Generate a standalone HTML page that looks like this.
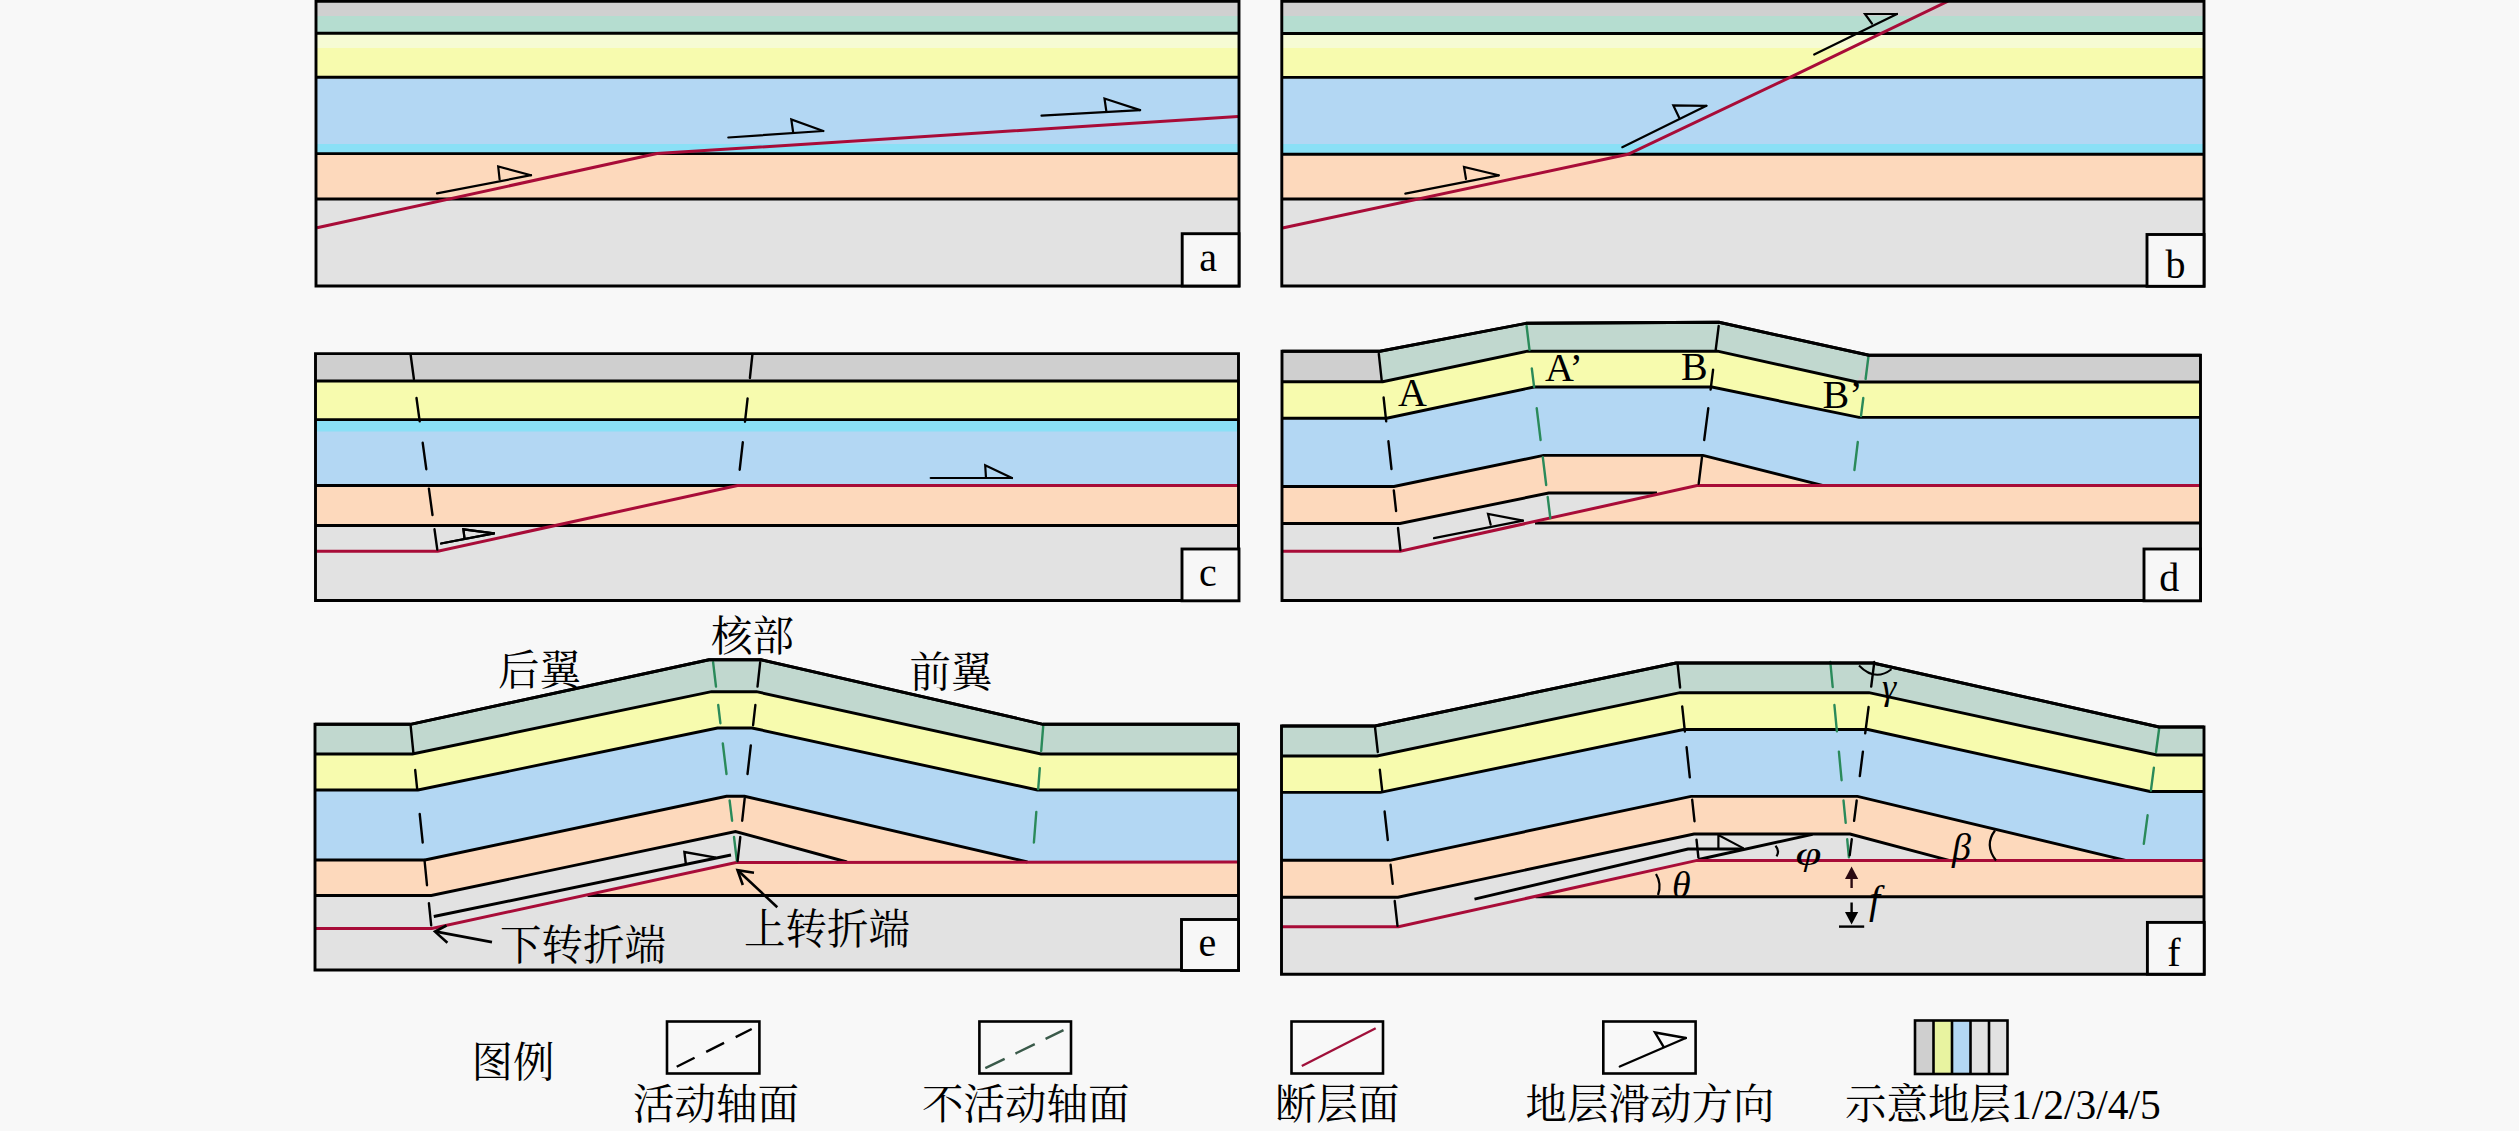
<!DOCTYPE html>
<html><head><meta charset="utf-8"><title>断层相关褶皱示意图</title>
<style>html,body{margin:0;padding:0;background:#f8f8f8;}svg{display:block;}</style>
</head><body>
<svg width="2519" height="1131" viewBox="0 0 2519 1131" font-family="'Liberation Serif', 'Noto Serif CJK SC', serif" fill="#000">
<rect width="2519" height="1131" fill="#f8f8f8"/>
<polygon points="316,1.2 1239,1.2 1239,286 316,286" fill="#b5ddd0"/>
<polygon points="316,33.3 1239,33.3 1239,286 316,286" fill="#f7fbae"/>
<polygon points="316,77.2 1239,77.2 1239,286 316,286" fill="#b3d7f3"/>
<polygon points="316,153.6 1239,153.6 1239,286 316,286" fill="#fdd9bc"/>
<polygon points="316,199 1239,199 1239,286 316,286" fill="#e2e2e2"/>
<rect x="316" y="1.2" width="923" height="14.8" fill="#d0d0d0"/>
<rect x="316" y="33.3" width="923" height="14.7" fill="#f6fbd4"/>
<rect x="316" y="144" width="923" height="9.6" fill="#8ae0f6"/>
<line x1="316" y1="33.3" x2="1239" y2="33.3" stroke="#000" stroke-width="2.9" />
<line x1="316" y1="77.2" x2="1239" y2="77.2" stroke="#000" stroke-width="2.9" />
<line x1="316" y1="153.6" x2="1239" y2="153.6" stroke="#000" stroke-width="2.9" />
<line x1="316" y1="199" x2="1239" y2="199" stroke="#000" stroke-width="2.9" />
<polyline points="317,227.8 657,153.6 1238,116.5" fill="none" stroke="#a80c38" stroke-width="3" stroke-linejoin="miter" />
<polyline points="437,193.4 531,175.2" fill="none" stroke="#000" stroke-width="2.2" stroke-linejoin="miter" stroke-linecap="round"/>
<polyline points="499.6,179.4 498.2,166.5 531,175.2" fill="none" stroke="#000" stroke-width="2.2" stroke-linejoin="miter" stroke-linecap="round"/>
<polyline points="728.3,137.5 823.3,131" fill="none" stroke="#000" stroke-width="2.2" stroke-linejoin="miter" stroke-linecap="round"/>
<polyline points="793.1,132 791.3,119.5 823.3,131" fill="none" stroke="#000" stroke-width="2.2" stroke-linejoin="miter" stroke-linecap="round"/>
<polyline points="1041.5,115.6 1140.1,110.1" fill="none" stroke="#000" stroke-width="2.2" stroke-linejoin="miter" stroke-linecap="round"/>
<polyline points="1106.3,111 1104.5,98.5 1140.1,110.1" fill="none" stroke="#000" stroke-width="2.2" stroke-linejoin="miter" stroke-linecap="round"/>
<polygon points="316,1.2 1239,1.2 1239,286 316,286" fill="none" stroke="#000" stroke-width="2.9" stroke-linejoin="miter"/>
<rect x="1182.2" y="233.7" width="56.8" height="52.3" fill="#f7f7f7" stroke="#000" stroke-width="2.9"/>
<text x="1208.1" y="271.4" font-size="40" text-anchor="middle" >a</text>
<polygon points="1281.8,1.2 2204,1.2 2204,286 1281.8,286" fill="#b5ddd0"/>
<polygon points="1281.8,33.5 2204,33.5 2204,286 1281.8,286" fill="#f7fbae"/>
<polygon points="1281.8,77.4 2204,77.4 2204,286 1281.8,286" fill="#b3d7f3"/>
<polygon points="1281.8,154.3 2204,154.3 2204,286 1281.8,286" fill="#fdd9bc"/>
<polygon points="1281.8,199 2204,199 2204,286 1281.8,286" fill="#e2e2e2"/>
<rect x="1281.8" y="1.2" width="922.2" height="14.8" fill="#d0d0d0"/>
<rect x="1281.8" y="33.5" width="922.2" height="14.5" fill="#f6fbd4"/>
<rect x="1281.8" y="144" width="922.2" height="10.3" fill="#8ae0f6"/>
<line x1="1281.8" y1="33.5" x2="2204" y2="33.5" stroke="#000" stroke-width="2.9" />
<line x1="1281.8" y1="77.4" x2="2204" y2="77.4" stroke="#000" stroke-width="2.9" />
<line x1="1281.8" y1="154.3" x2="2204" y2="154.3" stroke="#000" stroke-width="2.9" />
<line x1="1281.8" y1="199" x2="2204" y2="199" stroke="#000" stroke-width="2.9" />
<polyline points="1282.5,228 1628,154.3 1790,77.4 1948,1.2" fill="none" stroke="#a80c38" stroke-width="3" stroke-linejoin="miter" />
<polyline points="1405.3,193.6 1498.7,175.3" fill="none" stroke="#000" stroke-width="2.2" stroke-linejoin="miter" stroke-linecap="round"/>
<polyline points="1466,179 1464,167 1498.7,175.3" fill="none" stroke="#000" stroke-width="2.2" stroke-linejoin="miter" stroke-linecap="round"/>
<polyline points="1622.3,147.2 1706.4,105.8" fill="none" stroke="#000" stroke-width="2.2" stroke-linejoin="miter" stroke-linecap="round"/>
<polyline points="1679.2,117.8 1673.3,105.4 1706.4,105.8" fill="none" stroke="#000" stroke-width="2.2" stroke-linejoin="miter" stroke-linecap="round"/>
<polyline points="1814.2,54.5 1897,14" fill="none" stroke="#000" stroke-width="2.2" stroke-linejoin="miter" stroke-linecap="round"/>
<polyline points="1872,23.6 1865,14 1897,14" fill="none" stroke="#000" stroke-width="2.2" stroke-linejoin="miter" stroke-linecap="round"/>
<polygon points="1281.8,1.2 2204,1.2 2204,286 1281.8,286" fill="none" stroke="#000" stroke-width="2.9" stroke-linejoin="miter"/>
<rect x="2147" y="234.5" width="57" height="51.8" fill="#f7f7f7" stroke="#000" stroke-width="2.9"/>
<text x="2175.5" y="278.4" font-size="40" text-anchor="middle" >b</text>
<polygon points="315.5,353.6 1238.5,353.6 1238.5,600.5 315.5,600.5" fill="#cfcfcf"/>
<polygon points="315.5,381 1238.5,381 1238.5,600.5 315.5,600.5" fill="#f7fbae"/>
<polygon points="315.5,419.6 1238.5,419.6 1238.5,600.5 315.5,600.5" fill="#b3d7f3"/>
<rect x="315.5" y="421" width="923" height="10.5" fill="#8ae0f6"/>
<polygon points="315.5,485.5 1238.5,485.5 1238.5,600.5 315.5,600.5" fill="#fdd9bc"/>
<polygon points="315.5,525.5 1238.5,525.5 1238.5,600.5 315.5,600.5" fill="#e2e2e2"/>
<line x1="315.5" y1="381" x2="1238.5" y2="381" stroke="#000" stroke-width="2.9" />
<line x1="315.5" y1="419.6" x2="1238.5" y2="419.6" stroke="#000" stroke-width="2.9" />
<line x1="315.5" y1="485.5" x2="1238.5" y2="485.5" stroke="#000" stroke-width="2.9" />
<line x1="315.5" y1="525.5" x2="1238.5" y2="525.5" stroke="#000" stroke-width="2.9" />
<polyline points="316.5,551.3 437.8,551.3 737.5,485.5 1238,485.5" fill="none" stroke="#a80c38" stroke-width="3" stroke-linejoin="miter" />
<polyline points="441,543.5 494,533.3" fill="none" stroke="#000" stroke-width="2.2" stroke-linejoin="miter" stroke-linecap="round"/>
<polyline points="464.5,538.4 463.4,529.3 494,533.3" fill="none" stroke="#000" stroke-width="2.2" stroke-linejoin="miter" stroke-linecap="round"/>
<polyline points="930.7,478 1012,478" fill="none" stroke="#000" stroke-width="2.2" stroke-linejoin="miter" stroke-linecap="round"/>
<polyline points="986,478 985.2,465.3 1012,478" fill="none" stroke="#000" stroke-width="2.2" stroke-linejoin="miter" stroke-linecap="round"/>
<polygon points="315.5,353.6 1238.5,353.6 1238.5,600.5 315.5,600.5" fill="none" stroke="#000" stroke-width="2.9" stroke-linejoin="miter"/>
<rect x="1182" y="549" width="57" height="51.8" fill="#f7f7f7" stroke="#000" stroke-width="2.9"/>
<text x="1208" y="585.5" font-size="40" text-anchor="middle" >c</text>
<line x1="410.6" y1="354.5" x2="413.9" y2="379" stroke="#000" stroke-width="2.4" stroke-linecap="round"/>
<line x1="416.5" y1="398" x2="419.7" y2="421.4" stroke="#000" stroke-width="2.4" stroke-linecap="round"/>
<line x1="422.7" y1="442.8" x2="426.3" y2="469.2" stroke="#000" stroke-width="2.4" stroke-linecap="round"/>
<line x1="428.9" y1="488.6" x2="432.5" y2="515" stroke="#000" stroke-width="2.4" stroke-linecap="round"/>
<line x1="434.5" y1="529.3" x2="437.3" y2="549.6" stroke="#000" stroke-width="2.4" stroke-linecap="round"/>
<line x1="752.4" y1="354.5" x2="749.9" y2="378" stroke="#000" stroke-width="2.4" stroke-linecap="round"/>
<line x1="747.6" y1="398.4" x2="745" y2="421.7" stroke="#000" stroke-width="2.4" stroke-linecap="round"/>
<line x1="742.8" y1="442.3" x2="739.7" y2="469.7" stroke="#000" stroke-width="2.4" stroke-linecap="round"/>
<polyline points="441,543.5 494,533.3" fill="none" stroke="#000" stroke-width="2.2" stroke-linejoin="miter" stroke-linecap="round"/>
<polyline points="464.5,538.4 463.4,529.3 494,533.3" fill="none" stroke="#000" stroke-width="2.2" stroke-linejoin="miter" stroke-linecap="round"/>
<polygon points="1282,351.2 1380,351.2 1526.5,323.3 1719,322.3 1869,355.2 2200.5,355.2 2200.5,600.5 1282,600.5" fill="#c1d8cf"/>
<polygon points="1282,351.2 1380,351.2 1382.7,381.7 1282,381.7" fill="#cfcfcf"/>
<polygon points="1869,355.2 2200.5,355.2 2200.5,382 1857,382" fill="#cfcfcf"/>
<polygon points="1282,381.7 1382.7,381.7 1527.3,351.2 1717.5,351.2 1857,382 2200.5,382 2200.5,600.5 1282,600.5" fill="#f7fbae"/>
<polygon points="1282,418.2 1386.7,418.2 1534,387 1712,387 1859,417.4 2200.5,417.4 2200.5,600.5 1282,600.5" fill="#b3d7f3"/>
<polygon points="1282,486.5 1394,486.5 1543.5,455.4 1703,455.4 1823.5,485.6 2200.5,485.6 2200.5,600.5 1282,600.5" fill="#fdd9bc"/>
<polygon points="1282,523.5 1400,523.5 1548.7,493 1657,493 1400.2,551.2 1282,551.2" fill="#e2e2e2"/>
<polygon points="1282,551.2 1400.2,551.2 1535,523 2200.5,523 2200.5,600.5 1282,600.5" fill="#e2e2e2"/>
<polyline points="1282,381.7 1382.7,381.7 1527.3,351.2 1717.5,351.2 1857,382 2200.5,382" fill="none" stroke="#000" stroke-width="2.9" stroke-linejoin="miter" />
<polyline points="1282,418.2 1386.7,418.2 1534,387 1712,387 1859,417.4 2200.5,417.4" fill="none" stroke="#000" stroke-width="2.9" stroke-linejoin="miter" />
<polyline points="1282,486.5 1394,486.5 1543.5,455.4 1703,455.4 1823.5,485.6" fill="none" stroke="#000" stroke-width="2.9" stroke-linejoin="miter" />
<polyline points="1282,523.5 1400,523.5 1548.7,493 1657,493" fill="none" stroke="#000" stroke-width="2.9" stroke-linejoin="miter" />
<line x1="1535" y1="523" x2="2200.5" y2="523" stroke="#000" stroke-width="2.9" />
<polyline points="1282,551.2 1400.2,551.2 1697,485.6 2200.5,485.6" fill="none" stroke="#a80c38" stroke-width="3" stroke-linejoin="miter" />
<line x1="1378.8" y1="353.8" x2="1381.7" y2="380.3" stroke="#000" stroke-width="2.4" stroke-linecap="round"/>
<line x1="1383.6" y1="397.5" x2="1386.2" y2="421.4" stroke="#000" stroke-width="2.4" stroke-linecap="round"/>
<line x1="1388.4" y1="441.3" x2="1391.5" y2="469" stroke="#000" stroke-width="2.4" stroke-linecap="round"/>
<line x1="1393.8" y1="490.4" x2="1396.1" y2="511" stroke="#000" stroke-width="2.4" stroke-linecap="round"/>
<line x1="1398" y1="528" x2="1400.4" y2="550" stroke="#000" stroke-width="2.4" stroke-linecap="round"/>
<line x1="1526.6" y1="326" x2="1529.5" y2="349.8" stroke="#2a8a5a" stroke-width="2.4" stroke-linecap="round"/>
<line x1="1531.8" y1="368.4" x2="1534.1" y2="386.9" stroke="#2a8a5a" stroke-width="2.4" stroke-linecap="round"/>
<line x1="1536.7" y1="408.1" x2="1540.6" y2="440" stroke="#2a8a5a" stroke-width="2.4" stroke-linecap="round"/>
<line x1="1542.8" y1="457.2" x2="1546.2" y2="485" stroke="#2a8a5a" stroke-width="2.4" stroke-linecap="round"/>
<line x1="1547.7" y1="497" x2="1550.3" y2="518" stroke="#2a8a5a" stroke-width="2.4" stroke-linecap="round"/>
<line x1="1718.7" y1="326" x2="1715.7" y2="349.8" stroke="#000" stroke-width="2.4" stroke-linecap="round"/>
<line x1="1713.1" y1="369.7" x2="1710.6" y2="389.6" stroke="#000" stroke-width="2.4" stroke-linecap="round"/>
<line x1="1708.3" y1="408.1" x2="1704.2" y2="440" stroke="#000" stroke-width="2.4" stroke-linecap="round"/>
<line x1="1702" y1="457.2" x2="1698.7" y2="483.7" stroke="#000" stroke-width="2.4" stroke-linecap="round"/>
<line x1="1868.5" y1="356" x2="1865.6" y2="379" stroke="#2a8a5a" stroke-width="2.4" stroke-linecap="round"/>
<line x1="1863.3" y1="398" x2="1861" y2="416" stroke="#2a8a5a" stroke-width="2.4" stroke-linecap="round"/>
<line x1="1857.8" y1="442" x2="1854.4" y2="470" stroke="#2a8a5a" stroke-width="2.4" stroke-linecap="round"/>
<polyline points="1434,538.2 1523,520.6" fill="none" stroke="#000" stroke-width="2.2" stroke-linejoin="miter" stroke-linecap="round"/>
<polyline points="1490.7,524.7 1488,513.9 1523,520.6" fill="none" stroke="#000" stroke-width="2.2" stroke-linejoin="miter" stroke-linecap="round"/>
<polyline points="1282,351.2 1380,351.2 1526.5,323.3 1719,322.3 1869,355.2 2200.5,355.2" fill="none" stroke="#000" stroke-width="2.9" stroke-linejoin="miter" />
<polygon points="1282,351.2 1380,351.2 1526.5,323.3 1719,322.3 1869,355.2 2200.5,355.2 2200.5,600.5 1282,600.5" fill="none" stroke="#000" stroke-width="2.9" stroke-linejoin="miter"/>
<rect x="2144" y="549" width="56.5" height="51.8" fill="#f7f7f7" stroke="#000" stroke-width="2.9"/>
<text x="2169.2" y="591.4" font-size="40" text-anchor="middle" >d</text>
<text x="1412.5" y="405.7" font-size="40" text-anchor="middle" >A</text>
<text x="1545" y="380.7" font-size="40" text-anchor="start" >A’</text>
<text x="1681" y="379.5" font-size="40" text-anchor="start" >B</text>
<text x="1822.5" y="408" font-size="40" text-anchor="start" >B’</text>
<polygon points="315,724.3 410.5,724.3 709,659.8 761,659.8 1043,724.3 1238.5,724.3 1238.5,970 315,970" fill="#c1d8cf"/>
<polygon points="315,754 412.4,754 711.5,691.7 756.5,691.7 1041,754 1238.5,754 1238.5,970 315,970" fill="#f7fbae"/>
<polygon points="315,790 418,790 717.5,728 752,728 1037.4,790 1238.5,790 1238.5,970 315,970" fill="#b3d7f3"/>
<polygon points="315,860 425,860 726.5,796.3 744.5,796.3 1027.5,862 1238.5,862 1238.5,970 315,970" fill="#fdd9bc"/>
<polygon points="315,895.5 431.3,895.5 735.5,831.5 847,862 736,862.5 431.9,928.5 315,928.5" fill="#e2e2e2"/>
<polygon points="315,928.5 431.9,928.5 587.5,895.5 1238.5,895.5 1238.5,970 315,970" fill="#e2e2e2"/>
<polyline points="315,754 412.4,754 711.5,691.7 756.5,691.7 1041,754 1238.5,754" fill="none" stroke="#000" stroke-width="2.9" stroke-linejoin="miter" />
<polyline points="315,790 418,790 717.5,728 752,728 1037.4,790 1238.5,790" fill="none" stroke="#000" stroke-width="2.9" stroke-linejoin="miter" />
<polyline points="315,860 425,860 726.5,796.3 744.5,796.3 1027.5,862" fill="none" stroke="#000" stroke-width="2.9" stroke-linejoin="miter" />
<polyline points="315,895.5 431.3,895.5 735.5,831.5 847,862" fill="none" stroke="#000" stroke-width="2.9" stroke-linejoin="miter" />
<line x1="587.5" y1="895.5" x2="1238.5" y2="895.5" stroke="#000" stroke-width="2.9" />
<line x1="433.8" y1="916.5" x2="731" y2="855" stroke="#000" stroke-width="2.9" />
<polyline points="315,928.5 431.9,928.5 736,862.5 1238.5,862" fill="none" stroke="#a80c38" stroke-width="3" stroke-linejoin="miter" />
<line x1="410.7" y1="726.2" x2="413.4" y2="752.9" stroke="#000" stroke-width="2.4" stroke-linecap="round"/>
<line x1="415.2" y1="770" x2="417.2" y2="789.1" stroke="#000" stroke-width="2.4" stroke-linecap="round"/>
<line x1="419.7" y1="813.9" x2="422.7" y2="842.5" stroke="#000" stroke-width="2.4" stroke-linecap="round"/>
<line x1="424.5" y1="860" x2="427" y2="885.2" stroke="#000" stroke-width="2.4" stroke-linecap="round"/>
<line x1="428.9" y1="903.1" x2="431.2" y2="925.4" stroke="#000" stroke-width="2.4" stroke-linecap="round"/>
<line x1="713.1" y1="662.2" x2="716" y2="686.6" stroke="#2a8a5a" stroke-width="2.4" stroke-linecap="round"/>
<line x1="718.2" y1="704.9" x2="720.4" y2="723.2" stroke="#2a8a5a" stroke-width="2.4" stroke-linecap="round"/>
<line x1="722.8" y1="743.5" x2="726.5" y2="774" stroke="#2a8a5a" stroke-width="2.4" stroke-linecap="round"/>
<line x1="729.6" y1="800.4" x2="732.1" y2="820.7" stroke="#2a8a5a" stroke-width="2.4" stroke-linecap="round"/>
<line x1="734" y1="837" x2="736.9" y2="861" stroke="#2a8a5a" stroke-width="2.4" stroke-linecap="round"/>
<line x1="760.2" y1="662.2" x2="757.5" y2="686.6" stroke="#000" stroke-width="2.4" stroke-linecap="round"/>
<line x1="755.4" y1="704.9" x2="753.1" y2="725.2" stroke="#000" stroke-width="2.4" stroke-linecap="round"/>
<line x1="750.8" y1="745.5" x2="747.5" y2="774" stroke="#000" stroke-width="2.4" stroke-linecap="round"/>
<line x1="744.7" y1="798.4" x2="742.2" y2="820.7" stroke="#000" stroke-width="2.4" stroke-linecap="round"/>
<line x1="740.3" y1="837" x2="737.6" y2="861" stroke="#000" stroke-width="2.4" stroke-linecap="round"/>
<line x1="1043.2" y1="726.2" x2="1041.2" y2="751" stroke="#2a8a5a" stroke-width="2.4" stroke-linecap="round"/>
<line x1="1039.8" y1="768.2" x2="1038.2" y2="789.1" stroke="#2a8a5a" stroke-width="2.4" stroke-linecap="round"/>
<line x1="1036.3" y1="812" x2="1033.9" y2="842.5" stroke="#2a8a5a" stroke-width="2.4" stroke-linecap="round"/>
<polyline points="685.8,863.5 684.4,852 716,857.6" fill="none" stroke="#000" stroke-width="2.4" stroke-linejoin="miter" />
<polyline points="315,724.3 410.5,724.3 709,659.8 761,659.8 1043,724.3 1238.5,724.3" fill="none" stroke="#000" stroke-width="2.9" stroke-linejoin="miter" />
<polygon points="315,724.3 410.5,724.3 709,659.8 761,659.8 1043,724.3 1238.5,724.3 1238.5,970 315,970" fill="none" stroke="#000" stroke-width="2.9" stroke-linejoin="miter"/>
<rect x="1181.5" y="919.5" width="57" height="51" fill="#f7f7f7" stroke="#000" stroke-width="2.9"/>
<text x="1207.5" y="955.8" font-size="40" text-anchor="middle" >e</text>
<text x="498" y="685" font-size="41.5" text-anchor="start" >后翼</text>
<text x="711" y="650.5" font-size="41.5" text-anchor="start" >核部</text>
<text x="909.5" y="687" font-size="41.5" text-anchor="start" >前翼</text>
<text x="744" y="944" font-size="41.5" text-anchor="start" >上转折端</text>
<text x="500" y="959.5" font-size="41.5" text-anchor="start" >下转折端</text>
<polyline points="492,942.1 436,931.6" fill="none" stroke="#000" stroke-width="2.6" stroke-linejoin="miter" />
<polyline points="446.5,925.5 435,931.6 447.4,942.7" fill="none" stroke="#000" stroke-width="2.6" stroke-linejoin="miter" />
<polyline points="777.3,907.2 738.5,871" fill="none" stroke="#000" stroke-width="2.6" stroke-linejoin="miter" />
<polyline points="742.8,885 737.5,870.1 754,872.7" fill="none" stroke="#000" stroke-width="2.6" stroke-linejoin="miter" />
<polygon points="1281.5,726 1375,726 1676,663 1873,663 2159,727 2204,727 2204,974.2 1281.5,974.2" fill="#c1d8cf"/>
<polygon points="1281.5,756 1377,756 1680,692.7 1869,692.7 2157,755 2204,755 2204,974.2 1281.5,974.2" fill="#f7fbae"/>
<polygon points="1281.5,792.4 1380.5,792.4 1683.5,729.5 1868,729.5 2150,791.5 2204,791.5 2204,974.2 1281.5,974.2" fill="#b3d7f3"/>
<polygon points="1281.5,860.3 1390,860.3 1691,796.4 1857.5,796.4 2125.6,860.3 2204,860.4 2204,974.2 1281.5,974.2" fill="#fdd9bc"/>
<polygon points="1281.5,897.2 1398,897.2 1694,834 1850,834 1949,860.4 1697,860.4 1398.5,926.8 1281.5,926.8" fill="#e2e2e2"/>
<polygon points="1281.5,926.8 1398.5,926.8 1535.5,896.8 2204,896.8 2204,974.2 1281.5,974.2" fill="#e2e2e2"/>
<polyline points="1281.5,756 1377,756 1680,692.7 1869,692.7 2157,755 2204,755" fill="none" stroke="#000" stroke-width="2.9" stroke-linejoin="miter" />
<polyline points="1281.5,792.4 1380.5,792.4 1683.5,729.5 1868,729.5 2150,791.5 2204,791.5" fill="none" stroke="#000" stroke-width="2.9" stroke-linejoin="miter" />
<polyline points="1281.5,860.3 1390,860.3 1691,796.4 1857.5,796.4 2125.6,860.3" fill="none" stroke="#000" stroke-width="2.9" stroke-linejoin="miter" />
<polyline points="1281.5,897.2 1398,897.2 1694,834 1850,834 1949,860.4" fill="none" stroke="#000" stroke-width="2.9" stroke-linejoin="miter" />
<line x1="1535.5" y1="896.8" x2="2204" y2="896.8" stroke="#000" stroke-width="2.9" />
<polyline points="1474.5,899.2 1688,849 1743.6,849" fill="none" stroke="#000" stroke-width="2.9" stroke-linejoin="miter" />
<polyline points="1698.5,859.5 1812.5,834.4" fill="none" stroke="#000" stroke-width="2.9" stroke-linejoin="miter" />
<polyline points="1718.4,849 1718.4,835 1743.6,848.4" fill="none" stroke="#000" stroke-width="2.2" stroke-linejoin="miter" />
<polyline points="1281.5,926.8 1398.5,926.8 1697,860.4 2204,860.4" fill="none" stroke="#a80c38" stroke-width="3" stroke-linejoin="miter" />
<line x1="1375.1" y1="728" x2="1377.8" y2="752" stroke="#000" stroke-width="2.4" stroke-linecap="round"/>
<line x1="1379.8" y1="769.6" x2="1382.2" y2="790.5" stroke="#000" stroke-width="2.4" stroke-linecap="round"/>
<line x1="1384.6" y1="811.5" x2="1387.8" y2="840" stroke="#000" stroke-width="2.4" stroke-linecap="round"/>
<line x1="1390.6" y1="864.8" x2="1392.7" y2="883.9" stroke="#000" stroke-width="2.4" stroke-linecap="round"/>
<line x1="1394.7" y1="901" x2="1397.5" y2="925.8" stroke="#000" stroke-width="2.4" stroke-linecap="round"/>
<line x1="1677.6" y1="664" x2="1680.1" y2="687.5" stroke="#000" stroke-width="2.4" stroke-linecap="round"/>
<line x1="1682.2" y1="706.4" x2="1684.9" y2="731.5" stroke="#000" stroke-width="2.4" stroke-linecap="round"/>
<line x1="1686.6" y1="747.3" x2="1689.8" y2="777.4" stroke="#000" stroke-width="2.4" stroke-linecap="round"/>
<line x1="1692.2" y1="799.8" x2="1694.5" y2="821.2" stroke="#000" stroke-width="2.4" stroke-linecap="round"/>
<line x1="1696.5" y1="839.7" x2="1698.4" y2="857.5" stroke="#000" stroke-width="2.4" stroke-linecap="round"/>
<line x1="1830.3" y1="662" x2="1832.7" y2="687" stroke="#2a8a5a" stroke-width="2.4" stroke-linecap="round"/>
<line x1="1834.4" y1="705" x2="1836.9" y2="731.3" stroke="#2a8a5a" stroke-width="2.4" stroke-linecap="round"/>
<line x1="1838.9" y1="751.7" x2="1841.6" y2="780.2" stroke="#2a8a5a" stroke-width="2.4" stroke-linecap="round"/>
<line x1="1843.5" y1="800.5" x2="1845.7" y2="822.9" stroke="#2a8a5a" stroke-width="2.4" stroke-linecap="round"/>
<line x1="1847.2" y1="839.1" x2="1848.9" y2="857.4" stroke="#2a8a5a" stroke-width="2.4" stroke-linecap="round"/>
<line x1="1874.3" y1="662" x2="1871.2" y2="686.6" stroke="#000" stroke-width="2.4" stroke-linecap="round"/>
<line x1="1868.6" y1="707" x2="1865.2" y2="733.4" stroke="#000" stroke-width="2.4" stroke-linecap="round"/>
<line x1="1862.9" y1="751.7" x2="1859.8" y2="776.1" stroke="#000" stroke-width="2.4" stroke-linecap="round"/>
<line x1="1856.7" y1="800.5" x2="1854.1" y2="820.8" stroke="#000" stroke-width="2.4" stroke-linecap="round"/>
<line x1="1851.8" y1="839.1" x2="1849.7" y2="855.4" stroke="#000" stroke-width="2.4" stroke-linecap="round"/>
<line x1="2159.1" y1="729" x2="2156" y2="752" stroke="#2a8a5a" stroke-width="2.4" stroke-linecap="round"/>
<line x1="2153.9" y1="767.7" x2="2150.9" y2="790.5" stroke="#2a8a5a" stroke-width="2.4" stroke-linecap="round"/>
<line x1="2147.6" y1="815.3" x2="2143.8" y2="843.9" stroke="#2a8a5a" stroke-width="2.4" stroke-linecap="round"/>
<polyline points="1281.5,726 1375,726 1676,663 1873,663 2159,727 2204,727" fill="none" stroke="#000" stroke-width="2.9" stroke-linejoin="miter" />
<polygon points="1281.5,726 1375,726 1676,663 1873,663 2159,727 2204,727 2204,974.2 1281.5,974.2" fill="none" stroke="#000" stroke-width="2.9" stroke-linejoin="miter"/>
<rect x="2147.4" y="922.4" width="56.8" height="51.8" fill="#f7f7f7" stroke="#000" stroke-width="2.9"/>
<text x="2173.8" y="966" font-size="40" text-anchor="middle" >f</text>
<path d="M1859,665.5 Q1875,682 1891.5,669.3" fill="none" stroke="#000" stroke-width="2"/>
<path d="M1656,874 Q1662,884 1658,895" fill="none" stroke="#000" stroke-width="2.2"/>
<path d="M1775.5,845.7 Q1780,851 1776.5,856.3" fill="none" stroke="#000" stroke-width="2.2"/>
<path d="M1995,830.5 Q1984,845 1996,860.5" fill="none" stroke="#000" stroke-width="2.2"/>
<text x="1882" y="699" font-size="36" text-anchor="start" font-style="italic" >γ</text>
<text x="1672" y="898" font-size="38" text-anchor="start" font-style="italic" >θ</text>
<text x="1795.5" y="865" font-size="34" text-anchor="start" font-style="italic" textLength="26" lengthAdjust="spacingAndGlyphs">φ</text>
<text x="1952" y="860" font-size="38" text-anchor="start" font-style="italic" >β</text>
<text x="1869" y="913" font-size="40" text-anchor="start" font-style="italic" >f</text>
<polygon points="1851.6,866.5 1845,879 1858.2,879" fill="#2a0a12"/>
<line x1="1851.6" y1="878" x2="1851.6" y2="888" stroke="#2a0a12" stroke-width="2.4" />
<line x1="1851.6" y1="902.5" x2="1851.6" y2="913" stroke="#000" stroke-width="2.4" />
<polygon points="1851.6,924.5 1845,912 1858.2,912" fill="#000"/>
<line x1="1839" y1="926.6" x2="1864.2" y2="926.6" stroke="#000" stroke-width="2.4" />
<text x="471.5" y="1076.5" font-size="41.5" text-anchor="start" >图例</text>
<rect x="667" y="1021.5" width="92.4" height="52" fill="none" stroke="#000" stroke-width="2.6"/>
<rect x="979.4" y="1021.5" width="91.6" height="52" fill="none" stroke="#000" stroke-width="2.6"/>
<rect x="1291.5" y="1021.5" width="91.5" height="52" fill="none" stroke="#000" stroke-width="2.6"/>
<rect x="1603.3" y="1021.5" width="92.3" height="52" fill="none" stroke="#000" stroke-width="2.6"/>
<line x1="676.7" y1="1066.7" x2="751.7" y2="1029" stroke="#000" stroke-width="2.4" stroke-dasharray="20 13"/>
<line x1="985.3" y1="1068.2" x2="1063.5" y2="1030.2" stroke="#3a5a4a" stroke-width="2.4" stroke-dasharray="21.5 12"/>
<line x1="1301.8" y1="1066" x2="1375.7" y2="1028.3" stroke="#a0103a" stroke-width="2.4" />
<polyline points="1619.8,1066.5 1685.8,1038" fill="none" stroke="#000" stroke-width="2.4" stroke-linejoin="miter" stroke-linecap="round"/>
<polyline points="1663.6,1046.8 1655,1032.5 1685.8,1038" fill="none" stroke="#000" stroke-width="2.4" stroke-linejoin="miter" stroke-linecap="round"/>
<rect x="1915" y="1020.5" width="18.5" height="53.5" fill="#cfcfcf"/>
<rect x="1933.5" y="1020.5" width="18.5" height="53.5" fill="#e8f3a0"/>
<rect x="1952" y="1020.5" width="18.5" height="53.5" fill="#b3d7f3"/>
<rect x="1970.5" y="1020.5" width="18.5" height="53.5" fill="#e2e2e2"/>
<rect x="1989" y="1020.5" width="18.5" height="53.5" fill="#e2e2e2"/>
<line x1="1933.5" y1="1020.5" x2="1933.5" y2="1074" stroke="#000" stroke-width="2.6" />
<line x1="1952" y1="1020.5" x2="1952" y2="1074" stroke="#000" stroke-width="2.6" />
<line x1="1970.5" y1="1020.5" x2="1970.5" y2="1074" stroke="#000" stroke-width="2.6" />
<line x1="1989" y1="1020.5" x2="1989" y2="1074" stroke="#000" stroke-width="2.6" />
<rect x="1915" y="1020.5" width="92.5" height="53.5" fill="none" stroke="#000" stroke-width="2.6"/>
<text x="633" y="1118.5" font-size="41.5" text-anchor="start" >活动轴面</text>
<text x="922" y="1118.5" font-size="41.5" text-anchor="start" >不活动轴面</text>
<text x="1275" y="1118.5" font-size="41.5" text-anchor="start" >断层面</text>
<text x="1525.5" y="1118.5" font-size="41.5" text-anchor="start" >地层滑动方向</text>
<text x="1845" y="1118.5" font-size="41.5" text-anchor="start" >示意地层1/2/3/4/5</text>
</svg>
</body></html>
